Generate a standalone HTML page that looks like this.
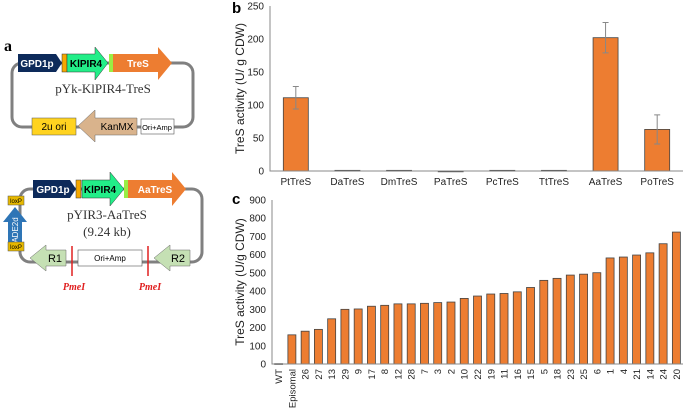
<!DOCTYPE html>
<html><head><meta charset="utf-8"><style>
body{margin:0;background:#fff;width:685px;height:410px;overflow:hidden}
svg{display:block}
text{font-family:"Liberation Sans",sans-serif}
.serif{font-family:"Liberation Serif",serif}
</style></head><body>
<svg width="685" height="410">
<g id="diagram">
<text class="serif" x="4" y="51" font-size="16" font-weight="bold">a</text>
<rect x="12" y="63" width="181" height="64" rx="10" fill="none" stroke="#808080" stroke-width="3"/>
<polygon points="18,54 56,54 62,63 56,72 18,72" fill="#0d2a5a"/>
<text x="37" y="67" font-size="10" font-weight="bold" fill="#fff" text-anchor="middle">GPD1p</text>
<rect x="62" y="54" width="5" height="18" fill="#f5a800" stroke="#333" stroke-width="0.5"/>
<polygon points="67,54 95,54 95,47 108,63 95,80 95,72 67,72" fill="#22ee88" stroke="#333" stroke-width="0.5"/>
<text x="86" y="67" font-size="10" font-weight="bold" fill="#000" text-anchor="middle">KlPIR4</text>
<rect x="109" y="54" width="4" height="18" fill="#99ee44"/>
<polygon points="113,54 158,54 158,47 172,63 158,80 158,72 113,72" fill="#ed7d31"/>
<text x="138" y="67" font-size="10" font-weight="bold" fill="#fff" text-anchor="middle">TreS</text>
<text class="serif" x="103" y="93" font-size="13" text-anchor="middle" fill="#333">pYk-KlPIR4-TreS</text>
<rect x="32" y="118" width="44" height="17" fill="#ffd320" stroke="#555" stroke-width="0.5"/>
<text x="54" y="130" font-size="10" text-anchor="middle">2u ori</text>
<polygon points="137,118 95,118 95,110 78,126 95,142 95,135 137,135" fill="#d9b38c" stroke="#666" stroke-width="0.5"/>
<text x="117" y="130" font-size="10" text-anchor="middle">KanMX</text>
<rect x="141" y="119" width="33" height="15" fill="#fff" stroke="#555" stroke-width="0.6"/>
<text x="157" y="130" font-size="7.5" text-anchor="middle">Ori+Amp</text>

<rect x="20" y="189" width="182" height="73" rx="10" fill="none" stroke="#808080" stroke-width="3"/>
<polygon points="33,180 70,180 76,189 70,198 33,198" fill="#0d2a5a"/>
<text x="53" y="193" font-size="10" font-weight="bold" fill="#fff" text-anchor="middle">GPD1p</text>
<rect x="76" y="180" width="5" height="18" fill="#f5a800" stroke="#333" stroke-width="0.5"/>
<polygon points="82,180 110,180 110,172 124,189 110,206 110,198 82,198" fill="#22ee88" stroke="#333" stroke-width="0.5"/>
<text x="100" y="193" font-size="10" font-weight="bold" text-anchor="middle">KlPIR4</text>
<rect x="124" y="180" width="4" height="18" fill="#99ee44"/>
<polygon points="128,180 172,180 172,172 186,189 172,206 172,198 128,198" fill="#ed7d31"/>
<text x="155" y="193" font-size="10" font-weight="bold" fill="#fff" text-anchor="middle">AaTreS</text>
<rect x="8" y="196" width="16" height="9" fill="#e6b800" stroke="#555" stroke-width="0.5"/>
<text x="16" y="203" font-size="6" text-anchor="middle">loxP</text>
<polygon points="8,242 8,222 3,222 15,207 27,222 22,222 22,242" fill="#2e75b6"/>
<text x="0" y="0" font-size="8" fill="#fff" text-anchor="middle" transform="translate(18,230) rotate(-90)">ADE2d</text>
<rect x="8" y="242" width="16" height="9" fill="#e6b800" stroke="#555" stroke-width="0.5"/>
<text x="16" y="249" font-size="6" text-anchor="middle">loxP</text>
<text class="serif" x="107" y="219" font-size="13" text-anchor="middle" fill="#333">pYIR3-AaTreS</text>
<text class="serif" x="107" y="236" font-size="13" text-anchor="middle" fill="#333">(9.24 kb)</text>
<polygon points="66,250 46,250 46,245 30,258 46,271 46,266 66,266" fill="#c5e0b4" stroke="#666" stroke-width="0.5"/>
<text x="55" y="262" font-size="11" text-anchor="middle">R1</text>
<rect x="78" y="250" width="64" height="16" fill="#fff" stroke="#555" stroke-width="0.6"/>
<text x="110" y="261" font-size="8" text-anchor="middle">Ori+Amp</text>
<polygon points="190,250 170,250 170,245 154,258 170,271 170,266 190,266" fill="#c5e0b4" stroke="#666" stroke-width="0.5"/>
<text x="178" y="262" font-size="11" text-anchor="middle">R2</text>
<line x1="72" y1="246" x2="72" y2="276" stroke="#e02020" stroke-width="1.5"/>
<line x1="148" y1="246" x2="148" y2="276" stroke="#e02020" stroke-width="1.5"/>
<text class="serif" x="74" y="290" font-size="10" font-style="italic" font-weight="bold" fill="#e02020" text-anchor="middle">PmeI</text>
<text class="serif" x="150" y="290" font-size="10" font-style="italic" font-weight="bold" fill="#e02020" text-anchor="middle">PmeI</text>
</g>
<g id="chartB"></g>
<g id="chartC"></g>
</svg>
<script>
const bCategories=["PtTreS","DaTreS","DmTreS","PaTreS","PcTreS","TtTreS","AaTreS","PoTreS"];
const bValues=[111,1,1,0,1,1,202,63];
const bErrors=[17,1,0,0,0,0,23,22];
const bTicks=[0,50,100,150,200,250];
const cCategories=["WT","Episomal","26","27","13","29","9","17","8","12","28","7","3","2","10","22","19","11","16","15","5","18","23","25","6","1","4","21","14","24","20"];
const cValues=[2,160,180,190,248,300,302,317,322,330,330,333,337,340,360,373,384,387,396,420,459,470,488,493,501,582,587,598,610,660,724];
const cTicks=[0,100,200,300,400,500,600,700,800,900];
const NS="http://www.w3.org/2000/svg";
function mk(p,t,a){const e=document.createElementNS(NS,t);for(const k in a)e.setAttribute(k,a[k]);p.appendChild(e);return e;}
function chart(g,cats,vals,errs,ticks,x0,x1,yTop,yBot,max,bw,rot,label,title,ty){
  const ys=v=>yBot-(v/max)*(yBot-yTop);
  const step=(x1-x0)/cats.length;
  const xs=i=>x0+step*(i+0.5);
  const l1=mk(g,'text',{x:232,y:ty,'font-size':15,'font-weight':'bold','font-family':'Liberation Serif,serif'});l1.textContent=label;
  
  
  ticks.forEach(t=>{const tx=mk(g,'text',{x:x0-6,y:ys(t)+3.5,'font-size':10,'text-anchor':'end',fill:'#222'});tx.textContent=t;
    
    });
  const yt=mk(g,'text',{x:0,y:0,'font-size':12,'text-anchor':'middle',fill:'#222',transform:`translate(244,${(yTop+yBot)/2}) rotate(-90)`});yt.textContent=title;
  
  
  cats.forEach((c,i)=>{
    const v=vals[i],y=ys(v);
    const r=mk(g,'rect',{x:xs(i)-bw/2,y:y,width:bw,height:Math.max(yBot-y,0.8),fill:'#ed7d31',stroke:'#444','stroke-width':0.8});
    
    
    if(errs&&errs[i]>1){const e=mk(g,'path',{d:`M${xs(i)},${ys(v+errs[i])}V${ys(v-errs[i])}M${xs(i)-3},${ys(v+errs[i])}h6M${xs(i)-3},${ys(v-errs[i])}h6`,stroke:'#888','stroke-width':1,fill:'none'});
      
      }
    let t;
    if(rot){t=mk(g,'text',{x:0,y:0,'font-size':9.5,'text-anchor':'end',fill:'#222',transform:`translate(${xs(i)+3.5},${yBot+5}) rotate(-90)`});}
    else{t=mk(g,'text',{x:xs(i),y:yBot+14,'font-size':10,'text-anchor':'middle',fill:'#222'});}
    t.textContent=c;
    
    
  });
  const ax=mk(g,'path',{d:`M${x0},${yTop}V${yBot}H${x1}`,stroke:'#888','stroke-width':1,fill:'none'});
  
  
}
chart(document.getElementById('chartB'),bCategories,bValues,bErrors,bTicks,270,683,6,171,250,25,false,'b','TreS activity (U/ g CDW)',13);
chart(document.getElementById('chartC'),cCategories,cValues,null,cTicks,272,683,200,364,900,8,true,'c','TreS activity (U/g CDW)',204);
</script>
</body></html>
